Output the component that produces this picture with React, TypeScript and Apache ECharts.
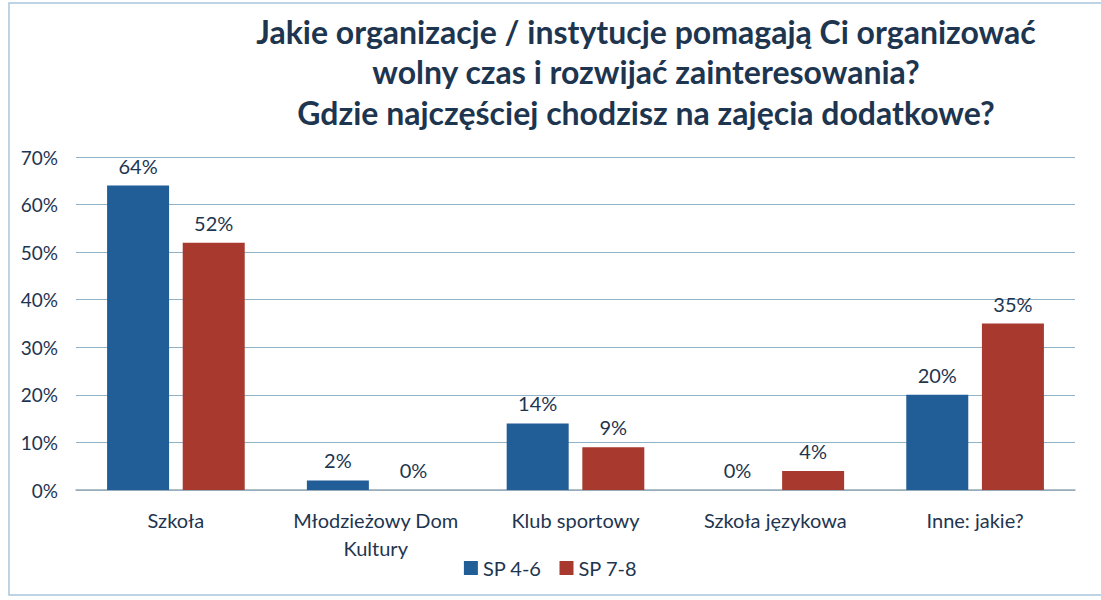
import React, { useEffect, useRef } from "react";
import * as echarts from "echarts";

const categories = ["Szkoła", "Młodzieżowy Dom\nKultury", "Klub sportowy", "Szkoła językowa", "Inne: jakie?"];
const seriesNames = ["SP 4-6", "SP 7-8"];
const sp46 = [64, 2, 14, 0, 20];
const sp78 = [52, 0, 9, 4, 35];
const titleText = "Jakie organizacje / instytucje pomagają Ci organizować\nwolny czas i rozwijać zainteresowania?\nGdzie najczęściej chodzisz na zajęcia dodatkowe?";

const FONT = "Lato, 'Open Sans', sans-serif";
const TEXT = "#1e3550";

export default function App() {
  const ref = useRef<HTMLDivElement>(null);
  useEffect(() => {
    if (!ref.current) return;
    const chart = echarts.init(ref.current, undefined, { renderer: "svg" });
    const label = {
      show: true,
      position: "top",
      distance: 10,
      formatter: (p: any) => p.value + "%",
      color: TEXT,
      fontSize: 20,
      fontFamily: FONT,
    };
    chart.setOption({
      animation: false,
      backgroundColor: "#ffffff",
      textStyle: { fontFamily: FONT },
      title: {
        text: titleText,
        left: 641,
        top: 6,
        textAlign: "center",
        textStyle: {
          fontFamily: FONT,
          fontWeight: "bold",
          fontSize: 32,
          lineHeight: 40.5,
          color: TEXT,
        },
      },
      graphic: [
        {
          type: "rect",
          shape: { x: 9, y: 3, width: 1120, height: 592 },
          style: { fill: "none", stroke: "#a9c6dc", lineWidth: 1.5 },
          silent: true,
        },
      ],
      legend: {
        data: seriesNames,
        left: "center",
        top: 553,
        itemWidth: 14,
        itemHeight: 14,
        itemGap: 18,
        icon: "rect",
        textStyle: { color: TEXT, fontSize: 20, fontFamily: FONT },
      },
      grid: { left: 76, right: 26, top: 157, bottom: 110 },
      xAxis: {
        type: "category",
        data: categories,
        axisTick: { show: false },
        axisLine: { lineStyle: { color: "#9aaab5", width: 1.5 } },
        axisLabel: {
          color: TEXT,
          fontSize: 20,
          fontFamily: FONT,
          lineHeight: 28,
          margin: 16,
          interval: 0,
        },
      },
      yAxis: {
        type: "value",
        min: 0,
        max: 70,
        interval: 10,
        axisLabel: {
          formatter: "{value}%",
          color: TEXT,
          fontSize: 19,
          fontFamily: FONT,
          margin: 18,
        },
        axisLine: { show: false },
        axisTick: { show: false },
        splitLine: { lineStyle: { color: "#8fb3c9", width: 1.2 } },
      },
      series: [
        {
          name: seriesNames[0],
          type: "bar",
          data: sp46,
          barWidth: 62,
          barGap: "22%",
          itemStyle: { color: "#215d96" },
          label,
        },
        {
          name: seriesNames[1],
          type: "bar",
          data: sp78,
          barWidth: 62,
          itemStyle: { color: "#a8392f" },
          label,
        },
      ],
    });
    return () => chart.dispose();
  }, []);
  return (
    <div
      ref={ref}
      style={{ position: "fixed", left: 0, top: 0, width: 1101, height: 600 }}
    />
  );
}
